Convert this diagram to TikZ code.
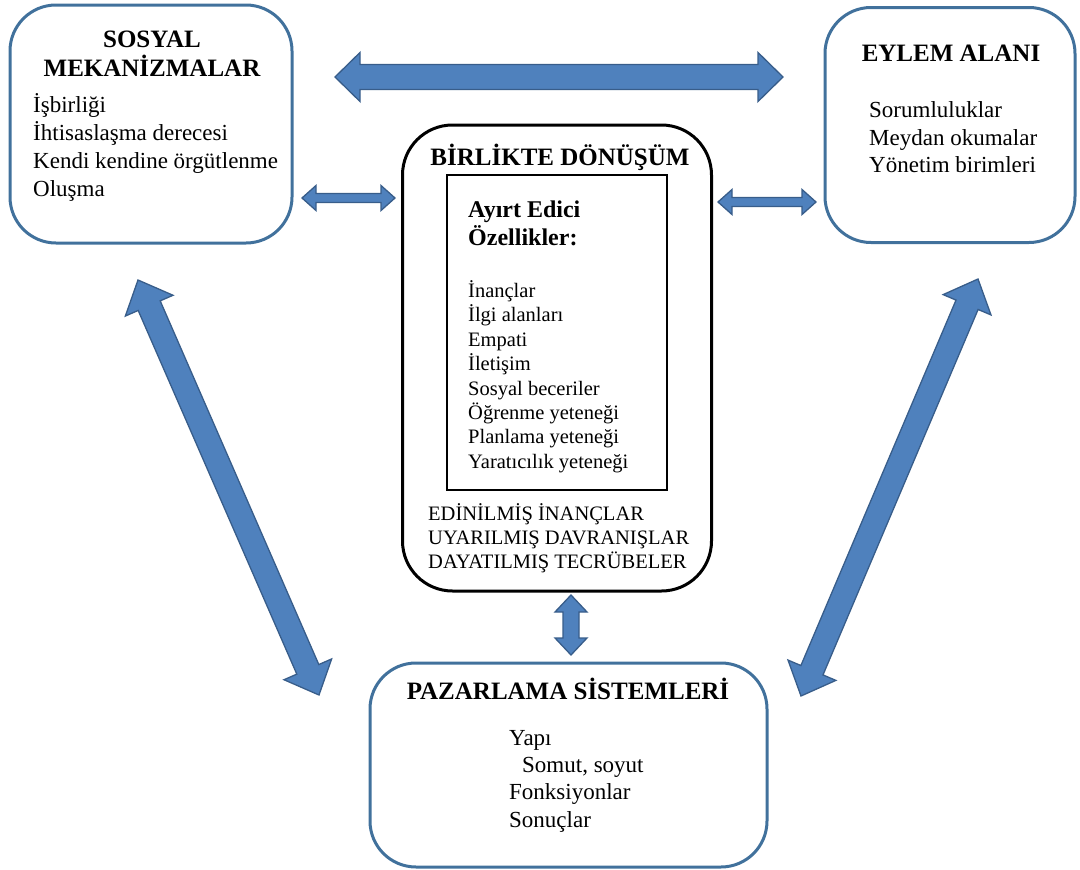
\documentclass[tikz,border=0pt]{standalone}
\usepackage{fontspec}
\setmainfont{Liberation Serif}
\usetikzlibrary{calc}

\definecolor{boxblue}{HTML}{41719C}
\definecolor{arrfill}{HTML}{4F81BD}
\definecolor{arrline}{HTML}{385D8A}

% thick two-headed block arrow between two named points:
% #1,#2 end points, #3 half shaft width, #4 half head width, #5 head length
\newcommand\blockarrow[5]{%
  \path[blockarrowstyle]
    (#1)
    -- ($(#1)!#5!(#2)!#4!90:(#2)$)
    -- ($(#1)!#5!(#2)!#3!90:(#2)$)
    -- ($(#2)!#5!(#1)!#3!-90:(#1)$)
    -- ($(#2)!#5!(#1)!#4!-90:(#1)$)
    -- (#2)
    -- ($(#2)!#5!(#1)!#4!90:(#1)$)
    -- ($(#2)!#5!(#1)!#3!90:(#1)$)
    -- ($(#1)!#5!(#2)!#3!-90:(#2)$)
    -- ($(#1)!#5!(#2)!#4!-90:(#2)$)
    -- cycle;}

\tikzset{
  blockarrowstyle/.style={fill=arrfill, draw=arrline, line width=1.3pt, line join=miter},
  bluebox/.style={draw=boxblue, line width=3pt, rounded corners=46pt, inner sep=0pt},
  blackbox/.style={draw=black, line width=3pt, rounded corners=50pt, inner sep=0pt},
  title/.style={font=\fontsize{25}{31}\selectfont\bfseries, inner sep=0pt, anchor=base},
  body/.style={font=\fontsize{23}{28}\selectfont, inner sep=0pt, anchor=base west},
  small/.style={font=\fontsize{20.5}{24.5}\selectfont, inner sep=0pt, anchor=base west},
}

\begin{document}
\begin{tikzpicture}[x=1pt, y=-1pt]
\useasboundingbox (0,0) rectangle (1080,870);

% ---- boxes ----
\node[bluebox, minimum width=282pt, minimum height=238pt] (sosyal) at (151,124) {};
\node[bluebox, minimum width=250pt, minimum height=235pt] (eylem) at (950,125) {};
\node[blackbox, minimum width=309pt, minimum height=466pt] (donusum) at (557,358) {};
\node[draw=black, line width=1.6pt, minimum width=220pt, minimum height=315pt, inner sep=0pt] (ozellik) at (557,332.5) {};
\node[bluebox, minimum width=397pt, minimum height=204pt] (pazar) at (568.5,765) {};

% ---- SOSYAL MEKANIZMALAR ----
\node[title] (sosT1) at (152,47) {SOSYAL};
\node[title] (sosT2) at (152,76) {MEKANİZMALAR};
\node[body] (sos1) at (33,112) {İşbirliği};
\node[body] (sos2) at (33,140) {İhtisaslaşma derecesi};
\node[body] (sos3) at (33,168) {Kendi kendine örgütlenme};
\node[body] (sos4) at (33,196) {Oluşma};

% ---- EYLEM ALANI ----
\node[title] (eyT) at (951,61) {EYLEM ALANI};
\node[body] (ey1) at (869,117) {Sorumluluklar};
\node[body] (ey2) at (869,145) {Meydan okumalar};
\node[body] (ey3) at (869,172) {Yönetim birimleri};

% ---- BIRLIKTE DONUSUM ----
\node[title] (donT) at (560,165) {BİRLİKTE DÖNÜŞÜM};
\node[body, font=\fontsize{24}{28}\selectfont\bfseries] (oz1) at (468,217) {Ayırt Edici};
\node[body, font=\fontsize{24}{28}\selectfont\bfseries] (oz2) at (468,245) {Özellikler:};
\node[small] (l1) at (468,297) {İnançlar};
\node[small] (l2) at (468,321.5) {İlgi alanları};
\node[small] (l3) at (468,346) {Empati};
\node[small] (l4) at (468,370.5) {İletişim};
\node[small] (l5) at (468,395) {Sosyal beceriler};
\node[small] (l6) at (468,419) {Öğrenme yeteneği};
\node[small] (l7) at (468,443.5) {Planlama yeteneği};
\node[small] (l8) at (468,468) {Yaratıcılık yeteneği};
\node[small] (d1) at (428,520) {EDİNİLMİŞ İNANÇLAR};
\node[small] (d2) at (428,544) {UYARILMIŞ DAVRANIŞLAR};
\node[small] (d3) at (428,568) {DAYATILMIŞ TECRÜBELER};

% ---- PAZARLAMA SISTEMLERI ----
\node[title] (pzT) at (568,699) {PAZARLAMA SİSTEMLERİ};
\node[body] (pz1) at (509,745) {Yapı};
\node[body] (pz2) at (522,772) {Somut, soyut};
\node[body] (pz3) at (509,799) {Fonksiyonlar};
\node[body] (pz4) at (509,827) {Sonuçlar};

% ---- arrow end points ----
\coordinate (topL) at (335,77);
\coordinate (topR) at (783,77);
\coordinate (smlL) at (302,198);
\coordinate (smlR) at (395,198);
\coordinate (smrL) at (718,202);
\coordinate (smrR) at (816,202);
\coordinate (vtT) at (571,595);
\coordinate (vtB) at (571,655);
\coordinate (dgLT) at (138,280);
\coordinate (dgLB) at (319,695);
\coordinate (dgRT) at (978,279);
\coordinate (dgRB) at (801,696);

% ---- arrows ----
\blockarrow{topL}{topR}{12.5pt}{24.5pt}{25pt}
\blockarrow{smlL}{smlR}{4.5pt}{12.5pt}{14pt}
\blockarrow{smrL}{smrR}{4.5pt}{12.5pt}{14pt}
\blockarrow{vtT}{vtB}{8pt}{16pt}{17pt}
\blockarrow{dgLT}{dgLB}{12pt}{26pt}{28pt}
\blockarrow{dgRT}{dgRB}{12pt}{26pt}{28pt}
\end{tikzpicture}
\end{document}
